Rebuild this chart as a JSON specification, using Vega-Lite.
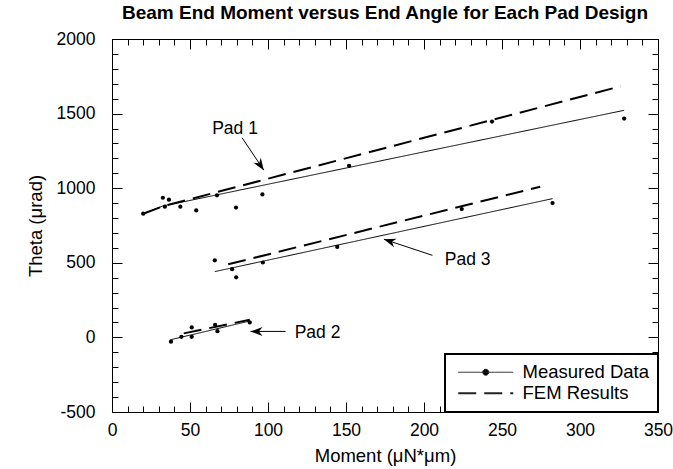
{
  "$schema": "https://vega.github.io/schema/vega-lite/v6.json",
  "autosize": "none",
  "width": 546,
  "height": 373,
  "padding": {"left": 112, "top": 39, "right": 15, "bottom": 57},
  "background": "white",
  "title": {
    "text": "Beam End Moment versus End Angle for Each Pad Design",
    "font": "Liberation Sans",
    "fontSize": 19,
    "fontWeight": "bold",
    "color": "black",
    "anchor": "middle",
    "offset": 7
  },
  "config": {
    "view": {"stroke": "black", "strokeWidth": 1},
    "font": "Liberation Sans",
    "axis": {
      "labelFont": "Liberation Sans",
      "labelFontSize": 17.5,
      "labelColor": "black",
      "titleFont": "Liberation Sans",
      "titleFontSize": 18.5,
      "titleFontWeight": "normal",
      "titleColor": "black",
      "domainColor": "black",
      "tickColor": "black",
      "grid": false
    }
  },
  "datasets": {
    "lines": [
      {"pad": "Pad 1", "series": "Measured Data", "moment": 20, "theta": 829},
      {"pad": "Pad 1", "series": "Measured Data", "moment": 33, "theta": 882},
      {"pad": "Pad 1", "series": "Measured Data", "moment": 44, "theta": 905},
      {"pad": "Pad 1", "series": "Measured Data", "moment": 328.3, "theta": 1522},
      {"pad": "Pad 3", "series": "Measured Data", "moment": 65.9, "theta": 441},
      {"pad": "Pad 3", "series": "Measured Data", "moment": 282.4, "theta": 930},
      {"pad": "Pad 2", "series": "Measured Data", "moment": 37.4, "theta": -16},
      {"pad": "Pad 2", "series": "Measured Data", "moment": 88.3, "theta": 110},
      {"pad": "Pad 1", "series": "FEM Results", "moment": 20, "theta": 829},
      {"pad": "Pad 1", "series": "FEM Results", "moment": 33, "theta": 880},
      {"pad": "Pad 1", "series": "FEM Results", "moment": 326, "theta": 1683},
      {"pad": "Pad 3", "series": "FEM Results", "moment": 74.5, "theta": 490},
      {"pad": "Pad 3", "series": "FEM Results", "moment": 274.5, "theta": 1010},
      {"pad": "Pad 2", "series": "FEM Results", "moment": 46, "theta": 27},
      {"pad": "Pad 2", "series": "FEM Results", "moment": 88.3, "theta": 118}
    ],
    "points": [
      {"pad": "Pad 1", "moment": 20, "theta": 829},
      {"pad": "Pad 1", "moment": 32.6, "theta": 936},
      {"pad": "Pad 1", "moment": 36.5, "theta": 923},
      {"pad": "Pad 1", "moment": 33.9, "theta": 876},
      {"pad": "Pad 1", "moment": 43.8, "theta": 876},
      {"pad": "Pad 1", "moment": 54, "theta": 851},
      {"pad": "Pad 1", "moment": 67.3, "theta": 952},
      {"pad": "Pad 1", "moment": 79.5, "theta": 870},
      {"pad": "Pad 1", "moment": 96.4, "theta": 958},
      {"pad": "Pad 1", "moment": 152, "theta": 1150},
      {"pad": "Pad 1", "moment": 243.6, "theta": 1447},
      {"pad": "Pad 1", "moment": 328.3, "theta": 1467},
      {"pad": "Pad 3", "moment": 65.9, "theta": 517},
      {"pad": "Pad 3", "moment": 77, "theta": 457},
      {"pad": "Pad 3", "moment": 79.6, "theta": 403},
      {"pad": "Pad 3", "moment": 96.7, "theta": 502},
      {"pad": "Pad 3", "moment": 144.4, "theta": 606},
      {"pad": "Pad 3", "moment": 224.2, "theta": 860},
      {"pad": "Pad 3", "moment": 282.4, "theta": 900},
      {"pad": "Pad 2", "moment": 37.8, "theta": -29},
      {"pad": "Pad 2", "moment": 44.5, "theta": 4},
      {"pad": "Pad 2", "moment": 51.1, "theta": 67},
      {"pad": "Pad 2", "moment": 51.1, "theta": 4},
      {"pad": "Pad 2", "moment": 66.1, "theta": 84},
      {"pad": "Pad 2", "moment": 67.6, "theta": 42},
      {"pad": "Pad 2", "moment": 88.3, "theta": 100}
    ],
    "labels": [
      {"label": "Pad 1", "moment": 64.2, "theta": 1400},
      {"label": "Pad 3", "moment": 213.3, "theta": 517},
      {"label": "Pad 2", "moment": 117.1, "theta": 29}
    ],
    "arrows": [
      {"label": "Pad 1", "moment": 83.4, "theta": 1338, "moment2": 97.3, "theta2": 1121},
      {"label": "Pad 3", "moment": 205.4, "theta": 550, "moment2": 174.3, "theta2": 658},
      {"label": "Pad 2", "moment": 111.3, "theta": 40, "moment2": 88.8, "theta2": 40}
    ]
  },
  "resolve": {"axis": {"x": "independent", "y": "independent"}},
  "layer": [
    {
      "data": {"name": "lines"},
      "mark": {"type": "line", "color": "black", "clip": true},
      "encoding": {
        "x": {
          "field": "moment", "type": "quantitative",
          "scale": {"domain": [0, 350], "nice": false, "zero": false},
          "axis": {
            "orient": "bottom",
            "title": "Moment (μN*μm)",
            "values": [0,10,20,30,40,50,60,70,80,90,100,110,120,130,140,150,160,170,180,190,200,210,220,230,240,250,260,270,280,290,300,310,320,330,340,350],
            "labelExpr": "datum.value % 50 === 0 ? '' + datum.value : ''",
            "tickSize": {"condition": {"test": "datum.value % 50 === 0", "value": -10}, "value": -6},
            "labelPadding": 19,
            "labelFlush": false,
            "labelOverlap": false,
            "titlePadding": 4
          }
        },
        "y": {
          "field": "theta", "type": "quantitative",
          "scale": {"domain": [-500, 2000], "nice": false, "zero": false},
          "axis": {
            "orient": "left",
            "title": "Theta (μrad)",
            "values": [-500,-400,-300,-200,-100,0,100,200,300,400,500,600,700,800,900,1000,1100,1200,1300,1400,1500,1600,1700,1800,1900,2000],
            "labelExpr": "datum.value % 500 === 0 ? '' + datum.value : ''",
            "tickSize": {"condition": {"test": "datum.value % 500 === 0", "value": -10}, "value": -6},
            "labelPadding": 27,
            "labelFlush": false,
            "labelOverlap": false,
            "titlePadding": 11
          }
        },
        "detail": {"field": "pad"},
        "strokeDash": {
          "field": "series", "type": "nominal",
          "scale": {"domain": ["Measured Data", "FEM Results"], "range": [[1, 0], [18, 8]]},
          "legend": {
            "title": null,
            "orient": "bottom-right",
            "offset": 0,
            "padding": 9,
            "rowPadding": 2,
            "strokeColor": "black",
            "fillColor": "white",
            "labelFont": "Liberation Sans",
            "labelFontSize": 18.5,
            "labelColor": "black",
            "labelOffset": 50,
            "symbolType": "stroke",
            "symbolSize": 100,
            "symbolStrokeWidth": 1.5,
            "symbolStrokeColor": "black",
            "encode": {
              "legend": {"update": {"strokeWidth": {"value": 2}}},
              "symbols": {"update": {
                "shape": {"signal": "datum.value === 'Measured Data' ? 'M-1,0H10M5.1,0A0.6,0.6,0,1,1,3.9,0A0.6,0.6,0,1,1,5.1,0' : 'M-1,0H10'"},
                "fill": {"value": "black"},
                "stroke": {"value": "#222222"},
                "strokeWidth": {"signal": "datum.value === 'Measured Data' ? 1 : 2"},
                "strokeDash": {"signal": "datum.value === 'Measured Data' ? [1,0] : [14,9]"},
                "opacity": {"value": 1}
              }}
            }
          }
        },
        "strokeWidth": {"condition": {"test": "datum.series === 'FEM Results'", "value": 2}, "value": 1}
      }
    },
    {
      "data": {"name": "points"},
      "mark": {"type": "circle", "color": "black", "size": 18, "opacity": 1},
      "encoding": {
        "x": {
          "field": "moment", "type": "quantitative",
          "axis": {
            "orient": "top", "title": null,
            "values": [0,10,20,30,40,50,60,70,80,90,100,110,120,130,140,150,160,170,180,190,200,210,220,230,240,250,260,270,280,290,300,310,320,330,340,350],
            "labels": false,
            "tickSize": {"condition": {"test": "datum.value % 50 === 0", "value": -10}, "value": -6}
          }
        },
        "y": {
          "field": "theta", "type": "quantitative",
          "axis": {
            "orient": "right", "title": null,
            "values": [-500,-400,-300,-200,-100,0,100,200,300,400,500,600,700,800,900,1000,1100,1200,1300,1400,1500,1600,1700,1800,1900,2000],
            "labels": false,
            "tickSize": {"condition": {"test": "datum.value % 500 === 0", "value": -10}, "value": -6}
          }
        }
      }
    },
    {
      "data": {"name": "labels"},
      "mark": {"type": "text", "align": "left", "baseline": "middle", "font": "Liberation Sans", "fontSize": 17.5, "color": "black"},
      "encoding": {
        "x": {"field": "moment", "type": "quantitative", "axis": null},
        "y": {"field": "theta", "type": "quantitative", "axis": null},
        "text": {"field": "label"}
      }
    },
    {
      "data": {"name": "arrows"},
      "mark": {"type": "rule", "color": "black", "strokeWidth": 1},
      "encoding": {
        "x": {"field": "moment", "type": "quantitative", "axis": null},
        "y": {"field": "theta", "type": "quantitative", "axis": null},
        "x2": {"field": "moment2"},
        "y2": {"field": "theta2"}
      }
    },
    {
      "data": {"name": "arrows"},
      "transform": [{"filter": "datum.label === 'Pad 1'"}],
      "mark": {"type": "point", "shape": "M0,0L-2,-0.75L-1.4,0L-2,0.75Z", "angle": 56, "size": 144, "filled": true, "color": "black", "opacity": 1},
      "encoding": {
        "x": {"field": "moment2", "type": "quantitative", "axis": null},
        "y": {"field": "theta2", "type": "quantitative", "axis": null}
      }
    },
    {
      "data": {"name": "arrows"},
      "transform": [{"filter": "datum.label === 'Pad 3'"}],
      "mark": {"type": "point", "shape": "M0,0L-2,-0.75L-1.4,0L-2,0.75Z", "angle": 198, "size": 144, "filled": true, "color": "black", "opacity": 1},
      "encoding": {
        "x": {"field": "moment2", "type": "quantitative", "axis": null},
        "y": {"field": "theta2", "type": "quantitative", "axis": null}
      }
    },
    {
      "data": {"name": "arrows"},
      "transform": [{"filter": "datum.label === 'Pad 2'"}],
      "mark": {"type": "point", "shape": "M0,0L-2,-0.75L-1.4,0L-2,0.75Z", "angle": 180, "size": 144, "filled": true, "color": "black", "opacity": 1},
      "encoding": {
        "x": {"field": "moment2", "type": "quantitative", "axis": null},
        "y": {"field": "theta2", "type": "quantitative", "axis": null}
      }
    }
  ]
}
